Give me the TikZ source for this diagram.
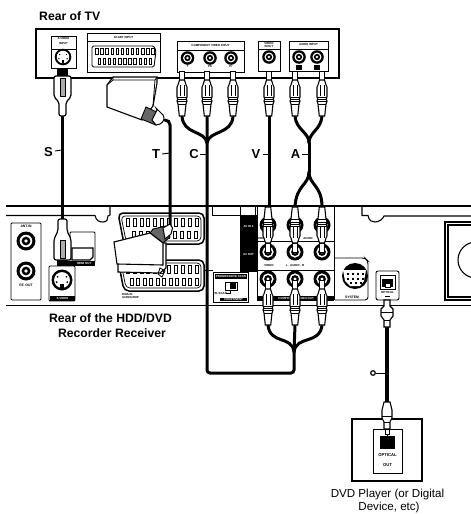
\documentclass[tikz,border=0pt]{standalone}
\usepackage{fontspec}
\setmainfont{Liberation Sans}
\newcommand{\tinyfs}{\fontsize{3.4}{3.8}\selectfont\bfseries}
\newcommand{\microfs}{\fontsize{2.9}{3.1}\selectfont\bfseries}
\tikzset{
  panel/.style={draw=black,line width=0.9pt,fill=white},
  cable/.style={draw=black,line width=3pt,line cap=round},
  heavy/.style={draw=black,line width=2pt},
  tick/.style={draw=black,line width=0.9pt},
  bigcaption/.style={font=\fontsize{12.2}{14}\selectfont\bfseries,inner sep=0pt,anchor=center},
  letter/.style={font=\fontsize{13}{14}\selectfont\bfseries,inner sep=0pt},
  small/.style={font=\tinyfs,inner sep=0pt},
  micro/.style={font=\microfs,inner sep=0pt},
  inverse/.style={font=\microfs,inner sep=0pt,text=white},
  caption/.style={font=\fontsize{11.6}{13}\selectfont,inner sep=0pt},
  jack/.pic={
    \fill[black] (0,0) circle[radius=1];
    \fill[white] (0,0) circle[radius=0.66];
    \fill[black] (0,0) circle[radius=0.46];
    \fill[white] (0,0) circle[radius=0.2];
  },
  rca/.pic={
    \draw[fill=white,line width=1pt] (-2.2,0) -- (2.2,0) -- (2.2,9) -- (-2.2,9) -- cycle;
    \draw[fill=white,line width=1.1pt] (-4,14) -- (-2.5,9) -- (2.5,9) -- (4,14) -- (5,16) -- (5,26) -- (4.3,28) -- (5,30) -- (4,33) -- (2.7,45) -- (-2.7,45) -- (-4,33) -- (-5,30) -- (-4.3,28) -- (-5,26) -- (-5,16) -- cycle;
    \draw[line width=0.8pt] (-5,26) -- (5,26) (-4.3,28) -- (4.3,28) (-5,30) -- (5,30) (-4,33) -- (4,33);
    \draw[line width=0.5pt] (-2,14) -- (-2,25) (2,14) -- (2,25);
  },
  svsocket/.pic={
    \fill[black] (0,0) circle[radius=1];
    \fill[white] (0,0) circle[radius=0.75];
    \foreach \a/\b in {-0.42/-0.3,0.42/-0.3,-0.5/0.2,0.5/0.2}{\fill[black] (\a,\b) circle[radius=0.09];}
    \fill[black] (-0.15,0.4) rectangle (0.15,0.72);
  }
}
\begin{document}
\begin{tikzpicture}[x=1pt,y=-1pt]
\useasboundingbox (0,0) rectangle (471,514);
\fill[white] (0,0) rectangle (471,514);
\begin{scope}
\clip (0,0) rectangle (471,514);

% ---------- TV
\node[bigcaption,anchor=west] (tvcap) at (39,16) {Rear of TV};
\draw[heavy,fill=white] (36,29) rectangle (339,78);

% S-video in
\draw[panel] (51,36) rectangle (76,68);
\draw[line width=0.6pt] (51,49) -- (76,49);
\node[micro] (svin1) at (63.5,39) {S-VIDEO};
\node[micro] (svin2) at (63.5,44) {INPUT};
\pic[scale=8.3] at (63,57) {svsocket};

% Scart in
\draw[panel] (87,33) rectangle (160,72);
\draw[line width=0.6pt] (87,41) -- (160,41);
\node[micro] (scartin) at (123.5,37.5) {SCART INPUT};
\draw[line width=0.9pt,rounded corners=1.5pt] (92,46) -- (154,46) -- (156,51) -- (154,67) -- (92,67) -- cycle;
\foreach \i in {0,...,11}{\draw[line width=0.6pt,fill=white] (95.5+\i*5.1,48) rectangle ++(2.4,6);}
\foreach \i in {0,...,10}{\draw[line width=0.6pt,fill=white] (98+\i*5.1,58) rectangle ++(2.4,6);}

% Component in
\draw[panel] (177,41) rectangle (244,72);
\draw[line width=0.6pt] (177,50) -- (244,50);
\node[micro] (compin) at (210.5,45.5) {COMPONENT VIDEO INPUT};
\pic[scale=6.8] at (187.5,58) {jack};
\pic[scale=6.8] at (210,58) {jack};
\pic[scale=6.8] at (231,58) {jack};
\node[micro] (py) at (187.5,66.5) {Y};
\node[micro] (ppb) at (210,66.5) {Pb};
\node[micro] (ppr) at (231,66.5) {Pr};

% Video in
\draw[panel] (258,41) rectangle (280,71);
\draw[line width=0.6pt] (258,49) -- (280,49);
\node[micro] (vin1) at (269,43.2) {VIDEO};
\node[micro] (vin2) at (269,46.8) {INPUT};
\pic[scale=6.8] at (269,57) {jack};

% Audio in
\draw[panel] (289,41) rectangle (328,71);
\draw[line width=0.6pt] (289,49) -- (328,49);
\node[micro] (ain) at (308.5,45) {AUDIO INPUT};
\pic[scale=6.8] at (299,57) {jack};
\pic[scale=6.8] at (317,57) {jack};
\draw[fill=black] (296.5,65) rectangle (301.5,69);
\draw[fill=black] (314.5,65) rectangle (319.5,69);

% ---------- Rear of recorder
\draw[line width=2pt] (6,205.5) -- (471,205.5);
\draw[line width=1.1pt] (6,215.5) -- (95,215.5) .. controls (96,221) and (100,222) .. (103,222) .. controls (107,222) and (108,219) .. (108,216) -- (110,215) -- (110,206);
\draw[line width=1.1pt] (212,215.5) -- (257,215.5);
\draw[line width=1.1pt] (362,206) -- (362,215.5) -- (368,215.5) .. controls (369,221) and (372,222) .. (375,222) .. controls (379,222) and (383,219) .. (384,216) -- (471,216);
\draw[line width=1pt] (240,206) -- (240,215) (212,206) -- (212,215.5) (255,206) -- (255,215);
\draw[line width=1.8pt] (6,305.5) -- (471,305.5);

% Antenna
\draw[panel,rounded corners=1pt] (11,223) rectangle (41,300);
\node[small] (antin) at (26,226.5) {ANT.IN};
\pic[scale=9.5] at (26,241) {jack};
\pic[scale=9.5] at (26,271) {jack};
\node[small] (rfout) at (26,285.5) {RF. OUT};

% HDMI
\draw[panel,rounded corners=1pt] (70,232) rectangle (95,262);
\draw[line width=1.3pt,fill=white] (72,248) -- (93,248) -- (93,257) -- (90,260) -- (72,260) -- cycle;
\fill[black] (68,261) rectangle (95,266);
\node[inverse] (hdmi) at (84,263.5) {HDMI OUT};

% S-video out
\draw[panel,rounded corners=1pt] (49,266) rectangle (75,301);
\pic[scale=10.5] at (62,280) {svsocket};
\fill[black] (50,296) rectangle (75,300.5);
\node[inverse] (svout) at (62.5,298.2) {S-VIDEO};

% Rear scart sockets
\draw[line width=1.5pt,fill=white,rounded corners=5pt] (118,213) -- (204,213) -- (204,244) -- (124,244) -- cycle;
\draw[line width=0.7pt,rounded corners=4pt] (121,216) -- (201,216) -- (201,241) -- (126,241) -- cycle;
\foreach \i in {0,...,10}{\draw[line width=0.6pt,fill=white] (126+\i*6.9,218.5) rectangle ++(3,7.5);}
\foreach \i in {0,...,9}{\draw[line width=0.6pt,fill=white] (132+\i*6.9,231) rectangle ++(3,7.5);}
\draw[line width=1.5pt,fill=white,rounded corners=5pt] (118,260) -- (204,260) -- (204,291) -- (124,291) -- cycle;
\draw[line width=0.7pt,rounded corners=4pt] (121,263) -- (201,263) -- (201,288) -- (126,288) -- cycle;
\foreach \i in {0,...,10}{\draw[line width=0.6pt,fill=white] (126+\i*6.9,265.5) rectangle ++(3,7.5);}
\foreach \i in {0,...,10}{\draw[line width=0.6pt,fill=white] (130+\i*6.5,278) rectangle ++(3,7.5);}
\node[micro,align=left,anchor=north west] (rgb) at (122,293) {RGB-IN\\AUDIO/AMP};
\draw[line width=0.8pt] (204,270) -- (213,270);

% AV block
\fill[black] (240,215) rectangle (257,272);
\node[inverse] (av3) at (248.5,227) {AV IN 3};
\node[inverse] (avo) at (248.5,254) {AV OUT};
\draw[line width=0.8pt] (334,206) -- (334,300);
\draw[line width=0.8pt] (257,241) -- (334,241) (257,270) -- (334,270) (257,206) -- (257,301);
\pic[scale=8.5] at (268,225) {jack};
\pic[scale=8.5] at (295,225) {jack};
\pic[scale=8.5] at (322,225) {jack};
\node[micro] (vt) at (262,238) {VIDEO};
\node[micro] (at) at (308,238.5) {AUDIO};
\pic[scale=8.5] at (268,252) {jack};
\pic[scale=8.5] at (295,252) {jack};
\pic[scale=8.5] at (322,252) {jack};
\node[micro] (vb) at (269,265) {VIDEO};
\node[micro] (ab) at (295,265) {L - AUDIO - R};
\pic[scale=8.5] at (268,279) {jack};
\pic[scale=8.5] at (295,279) {jack};
\pic[scale=8.5] at (322,279) {jack};
\fill[black] (257,296) rectangle (334,301);
\node[inverse] (compband) at (296,298.5) {COMPONENT VIDEO OUT};

% Progressive box
\draw[panel] (213,272) rectangle (248,302);
\fill[black] (215,274) rectangle (247,279);
\node[inverse] (prog) at (231,276.5) {PROGRESSIVE SCAN};
\draw[line width=0.9pt,fill=white] (225,282) rectangle (237,290);
\fill[black] (230,283) rectangle (236,289);
\node[micro] (ps) at (220,293.5) {PR. SCAN};
\draw[line width=0.5pt] (226,293.5) -- (230,293.5) -- (230,290);
\fill[black] (220,297.5) rectangle (247,301);
\node[inverse] (cm) at (233.5,299.3) {COMPONENT};

% System
\draw[panel,rounded corners=3pt] (335,258) -- (365,258) -- (368,261) -- (368,300) -- (335,300);
\fill[black] (355,276) circle[radius=13];
\fill[white] (343,270) -- (366,270) -- (364,281) -- (360,286) -- (350,286) -- (345,281) -- cycle;
\foreach \a/\b in {348/274,353/274,358/274,363/274,348/279,353/279,358/279,363/279,351/283,356/283,361/283}{\fill[black] (\a-1.2,\b-1.2) rectangle ++(2.4,2.4);}
\node[small] (system) at (352,297) {SYSTEM};

% Optical socket
\draw[panel,rounded corners=2pt] (376,271) rectangle (399,300);
\draw[line width=1pt] (380,275) rectangle (395,289);
\fill[black] (382,279) rectangle (393,287);
\draw[fill=white,line width=0.3pt] (385,283) rectangle (390,287);
\node[micro] (opt) at (387.5,292) {OPTICAL};
\fill[black] (385,296) rectangle (390,297);

% Right box
\draw[line width=1.4pt] (471,222) -- (445,222) -- (445,300) -- (471,300);
\draw[line width=1.3pt] (471,225) -- (448,225) -- (448,297) -- (471,297);
\draw[line width=1.1pt] (476,260) circle[radius=18];

% ---------- Cables
\node[inner sep=0pt,minimum size=0pt] (cjoin) at (207,143) {};
\node[inner sep=0pt,minimum size=0pt] (cjoinb) at (294,352) {};
\node[inner sep=0pt,minimum size=0pt] (ajoin) at (309,143) {};
\node[inner sep=0pt,minimum size=0pt] (ajoinb) at (309,172) {};
\coordinate (cl) at (182,116);
\coordinate (cm1) at (207,116);
\coordinate (cr) at (233,116);
\coordinate (vt1) at (269,116);
\coordinate (al) at (295,116);
\coordinate (ar) at (322,116);
\coordinate (vd) at (269,207);
\coordinate (ald) at (295,207);
\coordinate (ard) at (322,207);
\coordinate (bl) at (268,325);
\coordinate (bm) at (295,325);
\coordinate (br) at (322,325);
\coordinate (st) at (62,116);
\coordinate (sb) at (62,219);

\draw[cable] (st) -- (sb);
\draw[cable,rounded corners=3pt] (cm1) -- (207,373) -- (294,373) -- (cjoinb.center);
\draw[cable] (cl) .. controls (183,135) and (205,130) .. (cjoin.center);
\draw[cable] (cr) .. controls (232,135) and (209,130) .. (cjoin.center);
\draw[cable] (vt1) -- (vd);
\draw[cable] (al) .. controls (296,130) and (309,132) .. (ajoin.center);
\draw[cable] (ar) .. controls (321,130) and (309,132) .. (ajoin.center);
\draw[cable] (ajoin.center) -- (ajoinb.center);
\draw[cable] (ajoinb.center) .. controls (309,185) and (296,185) .. (ald);
\draw[cable] (ajoinb.center) .. controls (309,185) and (322,185) .. (ard);
\draw[cable] (bl) .. controls (270,345) and (292,335) .. (cjoinb.center);
\draw[cable] (bm) -- (cjoinb.center);
\draw[cable] (br) .. controls (320,345) and (296,335) .. (cjoinb.center);

% TV plugs
\pic at (182,71) {rca};
\pic at (207,71) {rca};
\pic at (233,71) {rca};
\pic at (269,71) {rca};
\pic at (295,71) {rca};
\pic at (322,71) {rca};
% Rear top plugs (pointing down)
\pic[rotate=180] at (268,252) {rca};
\pic[rotate=180] at (295,252) {rca};
\pic[rotate=180] at (322,252) {rca};
% Rear bottom plugs
\pic at (268,280) {rca};
\pic at (295,280) {rca};
\pic at (322,280) {rca};

% S plugs
\fill[black] (57,68) rectangle (68,76);
\draw[fill=white,line width=1.2pt,rounded corners=2pt] (54,76) -- (71,76) -- (71,97) -- (66,102) -- (66,116) -- (59,116) -- (59,102) -- (54,97) -- cycle;
\fill[gray!65] (60.5,78) rectangle (65,96);
\draw[line width=0.6pt] (60.5,78) rectangle (65,96);
\fill[black] (57,260) rectangle (68,266);
\draw[fill=white,line width=1.2pt,rounded corners=2pt] (58,219) -- (67,219) -- (67,231) -- (71,239) -- (71,260) -- (54,260) -- (54,239) -- (58,231) -- cycle;
\fill[gray!65] (60,240) rectangle (65,258);
\draw[line width=0.6pt] (60,240) rectangle (65,258);

% T cable & scart plugs
\draw[cable,rounded corners=5pt] (165,120) -- (170,120) -- (170,228);
\draw[line width=1.1pt,fill=white] (107,85) -- (113,77) -- (157,77) -- (157,83) -- (153,106) -- (142,120) -- (107,107) -- cycle;
\draw[line width=0.8pt] (113,77) -- (113,80) -- (155,80) (107,85) -- (113,80) (155,80) -- (157,77) (155,80) -- (153,106);
\draw[line width=0.9pt,fill=black!60] (146,107) -- (141,119) -- (156,125) -- (163,115) -- cycle;
\draw[line width=1pt,fill=white] (156,108) -- (163,115) .. controls (165,118) and (164,122) .. (160,124) -- (156,125) -- (152,120) -- (157,110) -- cycle;

\draw[line width=1.1pt,fill=white] (118,264) -- (118,272) -- (160,273) -- (166,268) -- (166,243) -- (163,243) -- cycle;
\draw[line width=0.9pt,fill=black!60] (150,233) -- (153,229) -- (166,226) -- (170,237) -- (163,243) -- cycle;
\draw[line width=1pt,fill=white] (163,228) -- (170,224) -- (172.5,228) -- (171,234) -- (165,239) -- cycle;
\draw[line width=1.1pt,fill=white] (114,242) -- (150,233) -- (163,243) -- (163,265) -- (117,264) -- cycle;
\draw[line width=0.8pt] (160,268) -- (165,271) -- (162,277) -- (158,274) -- cycle;

% Optical cable and plugs
\draw[cable,line width=4.6pt,line cap=butt] (387,327) -- (387,402);
\draw[line width=1.1pt,fill=white] (384,300) -- (390,300) -- (390,306) -- (393,309) -- (393,316) -- (390,320) -- (390,327) -- (384,327) -- (384,320) -- (381,316) -- (381,309) -- (384,306) -- cycle;
\draw[line width=0.7pt] (381,312) -- (393,312) (384,320) -- (390,320);

% Device
\draw[heavy,fill=white] (352,419) rectangle (422,481);
\draw[panel,line width=1pt] (373,429) rectangle (402,473);
\fill[black] (380,436) rectangle (395,449);
\draw[line width=1.1pt,fill=white] (384,402) -- (390,402) -- (392,410) -- (392,418) -- (390,422) -- (390,429) -- (384,429) -- (384,422) -- (382,418) -- (382,410) -- cycle;
\draw[line width=0.7pt] (382,416) -- (392,416) (384,422) -- (390,422);
\draw[line width=0.6pt,fill=white] (385,429) rectangle (389,434);
\draw[line width=0.6pt] (387,434) -- (387,436);
\node[small,font=\fontsize{4.2}{5}\selectfont\bfseries] (optb) at (387.5,455.5) {OPTICAL};
\node[small,font=\fontsize{4.2}{5}\selectfont\bfseries] (outb) at (387.5,465.5) {OUT};
\node[caption] (dvd1) at (387.5,494) {DVD Player (or Digital};
\node[caption] (dvd2) at (389,507.5) {Device, etc)};

% Captions and letters
\node[bigcaption] (rear1) at (110.5,318) {Rear of the HDD/DVD};
\node[bigcaption] (rear2) at (112,333.5) {Recorder Receiver};

\node[letter] (S) at (48.5,152) {S};
\node[letter] (T) at (156,154) {T};
\node[letter] (C) at (194,154) {C};
\node[letter] (V) at (256,154) {V};
\node[letter] (A) at (295.5,154) {A};
\draw[line width=1.2pt] (373,373) circle[radius=2.3];
\coordinate (scab) at (62,150);
\coordinate (tcab) at (170,153);
\coordinate (ccab) at (207,154);
\coordinate (vcab) at (269,154);
\coordinate (acab) at (309,154);
\coordinate (ocab) at (387,373);
\draw[tick] (S.east) ++(2,-1) -- (scab);
\draw[tick] (T.east) ++(2,0) -- (tcab);
\draw[tick] (C.east) ++(1,0) -- (ccab);
\draw[tick] (V.east) ++(2,0) -- (vcab);
\draw[tick] (A.east) ++(2,0) -- (acab);
\draw[tick] (376,373) -- (ocab);
\end{scope}
\end{tikzpicture}
\end{document}
